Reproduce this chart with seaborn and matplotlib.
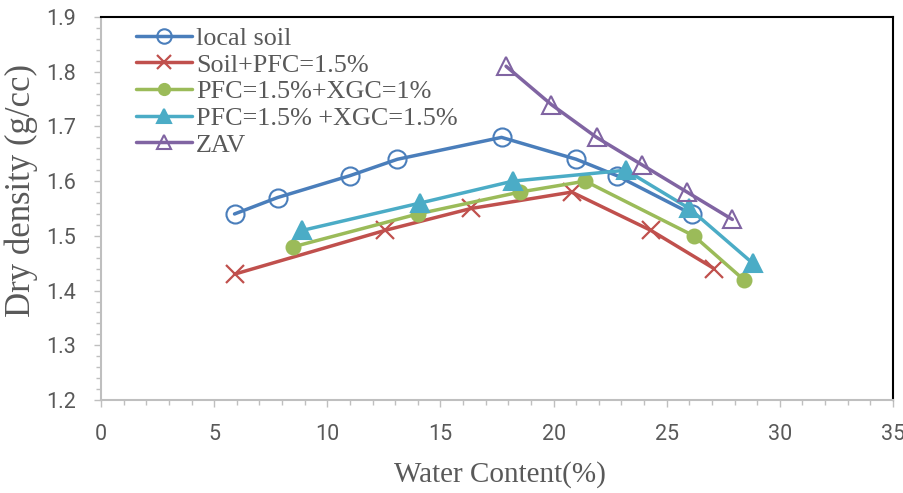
import pandas as pd
import numpy as np
import seaborn as sns
import matplotlib.pyplot as plt
from matplotlib.ticker import MultipleLocator

# values
local_x = [5.9, 7.8, 11.0, 13.1, 17.7, 21.0, 22.8, 26.1]
local_y = [1.54, 1.57, 1.61, 1.64, 1.68, 1.64, 1.61, 1.54]

pfc_x = [5.9, 12.55, 16.35, 20.8, 24.3, 27.1]
pfc_y = [1.43, 1.51, 1.55, 1.58, 1.51, 1.44]

xgc1_x = [8.5, 14.0, 18.5, 21.4, 26.2, 28.4]
xgc1_y = [1.48, 1.54, 1.58, 1.60, 1.50, 1.42]

xgc15_x = [8.9, 14.1, 18.2, 23.2, 26.0, 28.8]
xgc15_y = [1.51, 1.56, 1.60, 1.62, 1.55, 1.45]

zav_x = [17.9, 19.9, 21.9, 23.9, 25.9, 27.9]
zav_y = [1.81, 1.74, 1.68, 1.63, 1.58, 1.53]

series = [
    ("local soil", local_x, local_y, "#4A7EBB", "o", 13, "none"),
    ("Soil+PFC=1.5%", pfc_x, pfc_y, "#C0504D", "x", 13, None),
    ("PFC=1.5%+XGC=1%", xgc1_x, xgc1_y, "#9BBB59", "o", 10, None),
    ("PFC=1.5% +XGC=1.5%", xgc15_x, xgc15_y, "#4BACC6", "^", 13, None),
    ("ZAV", zav_x, zav_y, "#8064A2", "^", 13, "none"),
]

sns.set_style("white")
plt.rcParams['font.family'] = ['Liberation Serif', 'DejaVu Serif']

fig = plt.figure(figsize=(9.04, 4.93), dpi=100)
# axes box: x 101..893 px, y 17..400 px
ax = fig.add_axes([101 / 904, 93 / 493, 792 / 904, 383 / 493])

for name, xs, ys, col, mk, ms, fc in series:
    df = pd.DataFrame({"x": xs, "y": ys})
    kw = dict(marker=mk, markersize=ms, markeredgecolor=col,
              markeredgewidth=1.5 if mk != "x" else 1.6)
    kw["markerfacecolor"] = fc if fc is not None else col
    sns.lineplot(data=df, x="x", y="y", ax=ax, color=col, linewidth=2.5,
                 label=name, sort=False, **kw)

ax.set_xlim(0, 35)
ax.set_ylim(1.2, 1.9)
ax.xaxis.set_major_locator(MultipleLocator(5))
ax.xaxis.set_minor_locator(MultipleLocator(1))
ax.yaxis.set_major_locator(MultipleLocator(0.1))
ax.yaxis.set_minor_locator(MultipleLocator(0.02))
ax.yaxis.set_major_formatter(plt.FuncFormatter(lambda v, p: f"{v:.1f}"))

gray = "#BFBFBF"
for s in ["left", "bottom"]:
    ax.spines[s].set_color(gray)
    ax.spines[s].set_linewidth(1.5)
for s in ["top", "right"]:
    ax.spines[s].set_color("black")
    ax.spines[s].set_linewidth(1.5)

ax.tick_params(which="both", direction="out", color=gray, width=1.0,
               left=True, bottom=True)
ax.tick_params(which="major", length=5)
ax.tick_params(which="minor", length=3.5)
for lab in ax.get_xticklabels() + ax.get_yticklabels():
    lab.set_family(['Roboto', 'DejaVu Sans'])
    lab.set_fontsize(15.5)
    lab.set_color("#595959")
ax.tick_params(axis="x", pad=12)
ax.tick_params(axis="y", pad=13)

ax.set_xlabel("Water Content(%)", fontsize=21, color="#595959")
ax.set_ylabel("Dry density (g/cc)", fontsize=25, color="#595959")
ax.xaxis.set_label_coords(0.504, -0.160)
ax.yaxis.set_label_coords(-0.08, 0.548)

leg = ax.legend(loc="upper left", bbox_to_anchor=(0.044, 0.975), frameon=False,
                fontsize=18.8, handlelength=2.15, handletextpad=0.15,
                labelspacing=0.13, borderaxespad=0, borderpad=0,
                markerscale=0.8)
for t in leg.get_texts():
    t.set_color("#595959")

fig.savefig("out.png", dpi=100)
